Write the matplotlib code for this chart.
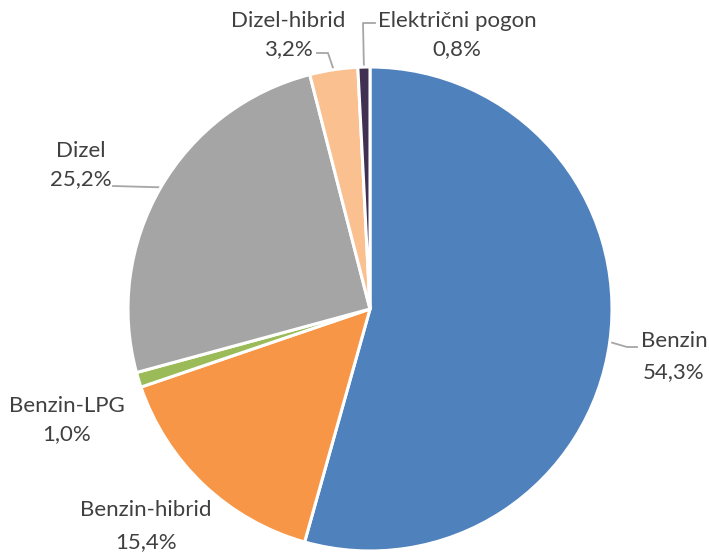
import numpy as np
import matplotlib.pyplot as plt

# udio vrsta pogona
labels = ["Benzin", "Benzin-hibrid", "Benzin-LPG", "Dizel", "Dizel-hibrid", "Električni pogon"]
shares = [54.3, 15.4, 1.0, 25.2, 3.2, 0.8]
colors = ["#4F81BD", "#F79646", "#9BBB59", "#A5A5A5", "#FAC090", "#403152"]

W, H = 709, 554
cx, cy, R = 370, 309, 242

# label layout in pixels (x centre, baseline of name line)
label_pos = [(674, 347), (146, 516), (67, 412), (81, 157), (288, 27), (457, 27)]
pct_gap = [31, 32, 28, 28, 28, 28]
# leader line points after the wedge anchor (None = no leader)
leaders = [[(627, 347), (637, 347)],
           None,
           None,
           [(113, 186)],
           [(328, 53), (317, 53)],
           [(363, 23), (375, 23)]]

plt.rcParams['font.family'] = ['Lato', 'DejaVu Sans']

fig = plt.figure(figsize=(W / 100, H / 100), dpi=100)
ax = fig.add_axes([0, 0, 1, 1])

wedges, _ = ax.pie(shares, colors=colors, startangle=90, counterclock=False,
                   center=(cx, H - cy), radius=R,
                   wedgeprops=dict(edgecolor='white', linewidth=2.2))
ax.set_xlim(0, W)
ax.set_ylim(0, H)
ax.set_aspect('equal')
ax.axis('off')

txt_color = '#404040'
for i, w in enumerate(wedges):
    x, y = label_pos[i]
    name = labels[i]
    pct = f"{shares[i]:.1f}".replace('.', ',') + "%"
    ax.text(x, H - y, name, ha='center', va='baseline', fontsize=16, color=txt_color)
    ax.text(x, H - y - pct_gap[i], pct, ha='center', va='baseline', fontsize=16, color=txt_color)
    if leaders[i] is not None:
        ang = np.deg2rad((w.theta1 + w.theta2) / 2)
        px = [cx + R * np.cos(ang)] + [p[0] for p in leaders[i]]
        py = [H - cy + R * np.sin(ang)] + [H - p[1] for p in leaders[i]]
        ax.plot(px, py, color='#A6A6A6', linewidth=1.3, zorder=0.5)

fig.savefig('out.png', dpi=100)
